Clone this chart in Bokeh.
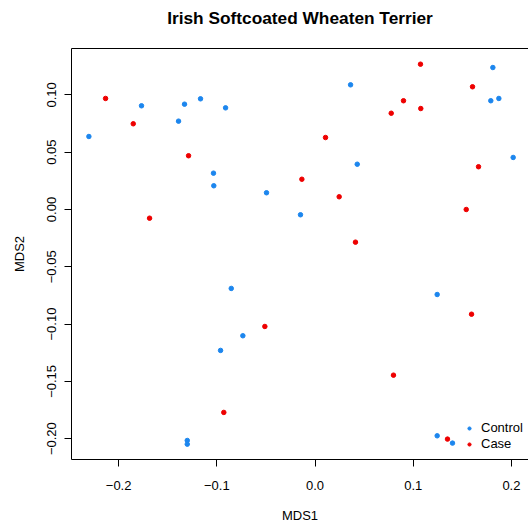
from bokeh.plotting import figure
from bokeh.models import Range1d, LinearAxis, FixedTicker, Legend, LegendItem
from bokeh.embed import file_html
from bokeh.resources import INLINE

# MDS coordinates per dog
control_x = [-0.1767, -0.1329, -0.1166, -0.0911, -0.1390, -0.2303, -0.1034, -0.1031,
             -0.0494, -0.0148, 0.1811, 0.0362, 0.1790, 0.1872, 0.2018, 0.0430,
             -0.0853, -0.0735, -0.0962, -0.1301, -0.1301, 0.1244, 0.1244, 0.1400]
control_y = [0.0905, 0.0919, 0.0966, 0.0887, 0.0771, 0.0637, 0.0317, 0.0207,
             0.0146, -0.0046, 0.1239, 0.1088, 0.0949, 0.0969, 0.0454, 0.0395,
             -0.0689, -0.1102, -0.1230, -0.2016, -0.2048, -0.0742, -0.1975, -0.2039]
case_x = [-0.2133, -0.1851, -0.1288, -0.1685, 0.1074, 0.1604, 0.0901, 0.1077,
          0.0776, 0.0107, 0.1665, -0.0134, 0.0246, 0.1540, 0.0412, -0.0511,
          -0.0929, 0.1594, 0.0799, 0.1349]
case_y = [0.0969, 0.0748, 0.0469, -0.0076, 0.1268, 0.1071, 0.0949, 0.0881,
          0.0840, 0.0628, 0.0373, 0.0264, 0.0111, 0.0000, -0.0285, -0.1021,
          -0.1771, -0.0914, -0.1446, -0.2004]

groups = ["Control", "Case"]
group_colors = ["#1C86EE", "#EE0000"]

x_ticks = [-0.2, -0.1, 0.0, 0.1, 0.2]
x_tick_labels = ["\u22120.2", "\u22120.1", "0.0", "0.1", "0.2"]
y_ticks = [-0.20, -0.15, -0.10, -0.05, 0.00, 0.05, 0.10]
y_tick_labels = ["\u22120.20", "\u22120.15", "\u22120.10", "\u22120.05", "0.00", "0.05", "0.10"]

title_text = "Irish Softcoated Wheaten Terrier"
FONT = "Liberation Sans"

X_START, X_END = -0.248, 0.2174

p = figure(width=528, height=528, output_backend="svg", toolbar_location=None,
           x_range=Range1d(X_START, X_END), y_range=Range1d(-0.2182, 0.1405),
           min_border_left=71, min_border_right=0, min_border_top=48, min_border_bottom=69,
           x_axis_label="MDS1", y_axis_label="MDS2")
p.title.text = ""
p.outline_line_color = None
p.grid.visible = False
p.background_fill_color = "white"
p.border_fill_color = "white"

for ax in (p.xaxis[0], p.yaxis[0]):
    ax.axis_line_color = "black"
    ax.axis_line_width = 1
    ax.major_tick_line_color = "black"
    ax.major_tick_line_width = 1
    ax.major_tick_out = 7
    ax.major_tick_in = 0
    ax.minor_tick_line_color = None
    ax.major_label_text_font = FONT
    ax.major_label_text_font_size = "13px"
    ax.major_label_text_color = "black"
    ax.axis_label_text_font = FONT
    ax.axis_label_text_font_size = "13px"
    ax.axis_label_text_font_style = "normal"
    ax.axis_label_text_color = "black"

p.xaxis[0].ticker = FixedTicker(ticks=x_ticks)
p.xaxis[0].major_label_overrides = dict(zip(x_ticks, x_tick_labels))
p.xaxis[0].major_label_standoff = 14
p.xaxis[0].axis_label_standoff = 15

p.yaxis[0].ticker = FixedTicker(ticks=y_ticks)
p.yaxis[0].major_label_overrides = dict(zip(y_ticks, y_tick_labels))
p.yaxis[0].major_label_orientation = "vertical"
p.yaxis[0].major_label_standoff = 8
p.yaxis[0].axis_label_standoff = 18

# top edge of the box: a bare rule with no ticks and no reserved room
top_axis = LinearAxis(ticker=FixedTicker(ticks=[]), axis_line_color="black",
                      axis_line_width=1, major_tick_line_color=None,
                      minor_tick_line_color=None, major_tick_out=0, major_tick_in=0,
                      minor_tick_out=0, minor_tick_in=0,
                      major_label_standoff=0, axis_label_standoff=0)
p.add_layout(top_axis, "above")

# main title, centred over the full plotting region (which runs past the right edge)
title_axis = LinearAxis(ticker=FixedTicker(ticks=[]), bounds=(-0.2184, X_END),
                        axis_line_color=None, major_tick_line_color=None,
                        minor_tick_line_color=None, major_tick_out=0, major_tick_in=0,
                        minor_tick_out=0, minor_tick_in=0, major_label_standoff=0,
                        axis_label=title_text, axis_label_standoff=21,
                        axis_label_text_font=FONT, axis_label_text_font_size="17.3px",
                        axis_label_text_font_style="bold", axis_label_text_color="black")
p.add_layout(title_axis, "above")

r_control = p.scatter(control_x, control_y, size=4.5, marker="circle",
                      fill_color=group_colors[0], line_color=group_colors[0])
r_case = p.scatter(case_x, case_y, size=4.5, marker="circle",
                   fill_color=group_colors[1], line_color=group_colors[1])

legend = Legend(items=[LegendItem(label=groups[0], renderers=[r_control]),
                       LegendItem(label=groups[1], renderers=[r_case])],
                location=(394, 7.5), orientation="vertical",
                border_line_color=None, background_fill_alpha=0,
                padding=0, margin=0, spacing=0,
                glyph_width=8, glyph_height=16, label_height=16, label_standoff=8,
                label_text_font=FONT, label_text_font_size="13px",
                label_text_color="black")
p.add_layout(legend, "center")

open("out.html", "w").write(file_html(p, INLINE))
